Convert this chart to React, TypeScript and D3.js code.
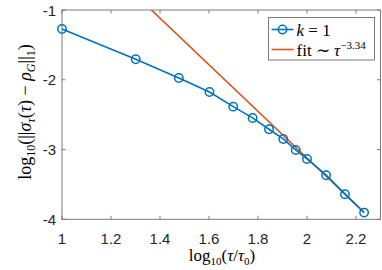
import React, { useEffect, useRef } from 'react';
import * as d3 from 'd3';

// log10(tau/tau0) and log10 error for k = 1
const logTau = [1.0, 1.301, 1.477, 1.602, 1.699, 1.778, 1.845, 1.903, 1.954, 2.0, 2.078, 2.155, 2.233];
const logErr = [-1.272, -1.706, -1.974, -2.175, -2.385, -2.547, -2.709, -2.848, -3.006, -3.135, -3.368, -3.640, -3.904];

// fit ~ tau^-3.34
const fitSlope = -3.34;
const fitIntercept = 3.559;
const fitRange = [1.3, 2.233];

const xTicks = [1, 1.2, 1.4, 1.6, 1.8, 2, 2.2];
const yTicks = [-1, -2, -3, -4];

const W = 382;
const H = 270;
const BLUE = '#0072BD';
const ORANGE = '#D95319';

const App: React.FC = () => {
    const svgRef = useRef<SVGSVGElement>(null);

    useEffect(() => {
        if (!svgRef.current) return;
        const svg = d3.select(svgRef.current);
        svg.selectAll('*').remove();

        const margin = { top: 10, right: 1.5, bottom: 50.7, left: 62 };
        const iw = W - margin.left - margin.right;
        const ih = H - margin.top - margin.bottom;

        const x = d3.scaleLinear().domain([1, 2.3]).range([0, iw]);
        const y = d3.scaleLinear().domain([-4, -1]).range([ih, 0]);

        const g = svg.append('g').attr('transform', `translate(${margin.left},${margin.top})`);

        svg.append('defs').append('clipPath').attr('id', 'plotclip')
            .append('rect').attr('width', iw).attr('height', ih);

        // box
        g.append('rect')
            .attr('width', iw).attr('height', ih)
            .attr('fill', 'none').attr('stroke', '#6e6e6e').attr('stroke-width', 0.9);

        const tickLen = 3.5;
        xTicks.forEach(t => {
            const px = x(t);
            g.append('line').attr('x1', px).attr('x2', px).attr('y1', ih).attr('y2', ih - tickLen)
                .attr('stroke', '#6e6e6e').attr('stroke-width', 0.9);
            g.append('line').attr('x1', px).attr('x2', px).attr('y1', 0).attr('y2', tickLen)
                .attr('stroke', '#6e6e6e').attr('stroke-width', 0.9);
            g.append('text').attr('x', px).attr('y', ih + 24.5)
                .attr('text-anchor', 'middle')
                .attr('font-family', 'Liberation Sans, Arial, sans-serif')
                .attr('font-size', 15).attr('fill', '#262626')
                .text(String(t));
        });
        yTicks.forEach(t => {
            const py = y(t);
            g.append('line').attr('x1', 0).attr('x2', tickLen).attr('y1', py).attr('y2', py)
                .attr('stroke', '#6e6e6e').attr('stroke-width', 0.9);
            g.append('line').attr('x1', iw).attr('x2', iw - tickLen).attr('y1', py).attr('y2', py)
                .attr('stroke', '#6e6e6e').attr('stroke-width', 0.9);
            g.append('text').attr('x', -6).attr('y', py + 5.5)
                .attr('text-anchor', 'end')
                .attr('font-family', 'Liberation Sans, Arial, sans-serif')
                .attr('font-size', 15).attr('fill', '#262626')
                .text(String(t));
        });

        // fit line
        const plot = g.append('g').attr('clip-path', 'url(#plotclip)');
        const fitPts = fitRange.map(v => [v, fitIntercept + fitSlope * v] as [number, number]);
        plot.append('path')
            .attr('d', d3.line<[number, number]>().x(d => x(d[0])).y(d => y(d[1]))(fitPts) || '')
            .attr('fill', 'none').attr('stroke', ORANGE).attr('stroke-width', 1.6);

        // data line
        const pts = logTau.map((v, i) => [v, logErr[i]] as [number, number]);
        g.append('path')
            .attr('d', d3.line<[number, number]>().x(d => x(d[0])).y(d => y(d[1]))(pts) || '')
            .attr('fill', 'none').attr('stroke', BLUE).attr('stroke-width', 1.6);
        g.selectAll('circle.pt').data(pts).enter().append('circle')
            .attr('cx', d => x(d[0])).attr('cy', d => y(d[1])).attr('r', 4.2)
            .attr('fill', 'none').attr('stroke', BLUE).attr('stroke-width', 1.5);

        // legend
        const lg = svg.append('g').attr('transform', 'translate(268.5,17.5)');
        lg.append('rect').attr('width', 106).attr('height', 42.5)
            .attr('fill', 'white').attr('stroke', '#6e6e6e').attr('stroke-width', 0.9);
        lg.append('line').attr('x1', 3).attr('x2', 25).attr('y1', 12).attr('y2', 12)
            .attr('stroke', BLUE).attr('stroke-width', 1.6);
        lg.append('circle').attr('cx', 14).attr('cy', 12).attr('r', 4.2)
            .attr('fill', 'none').attr('stroke', BLUE).attr('stroke-width', 1.5);
        lg.append('line').attr('x1', 3).attr('x2', 25).attr('y1', 32).attr('y2', 32)
            .attr('stroke', ORANGE).attr('stroke-width', 1.6);

        const serif = 'Liberation Serif, Times New Roman, serif';
        const t1 = lg.append('text').attr('x', 28).attr('y', 18)
            .attr('font-family', serif).attr('font-size', 17).attr('fill', '#000');
        t1.append('tspan').attr('font-style', 'italic').text('k');
        t1.append('tspan').text(' = 1');
        const t2 = lg.append('text').attr('x', 28).attr('y', 38)
            .attr('font-family', serif).attr('font-size', 17).attr('fill', '#000');
        t2.append('tspan').text('fit ∼ ');
        t2.append('tspan').attr('font-style', 'italic').text('τ');
        t2.append('tspan').attr('dy', -7).attr('font-size', 11).text('−3.34');

        // x label
        const xl = svg.append('text').attr('x', 222).attr('y', 261)
            .attr('text-anchor', 'middle')
            .attr('font-family', serif).attr('font-size', 17).attr('fill', '#000');
        xl.append('tspan').text('log');
        xl.append('tspan').attr('dy', 4).attr('font-size', 11).text('10');
        xl.append('tspan').attr('dy', -4).text('(');
        xl.append('tspan').attr('font-style', 'italic').text('τ');
        xl.append('tspan').text('/');
        xl.append('tspan').attr('font-style', 'italic').text('τ');
        xl.append('tspan').attr('dy', 4).attr('font-size', 11).text('0');
        xl.append('tspan').attr('dy', -4).text(')');

        // y label
        const yl = svg.append('text')
            .attr('transform', 'translate(31,112) rotate(-90)')
            .attr('text-anchor', 'middle')
            .attr('font-family', serif).attr('font-size', 18).attr('fill', '#000');
        yl.append('tspan').text('log');
        yl.append('tspan').attr('dy', 4).attr('font-size', 12).text('10');
        yl.append('tspan').attr('dy', -4).text('(||');
        yl.append('tspan').attr('font-style', 'italic').text('σ');
        yl.append('tspan').attr('dy', 4).attr('font-size', 12).attr('font-style', 'italic').text('τ');
        yl.append('tspan').attr('dy', -4).text('(');
        yl.append('tspan').attr('font-style', 'italic').text('τ');
        yl.append('tspan').text(') − ');
        yl.append('tspan').attr('font-style', 'italic').text('ρ');
        yl.append('tspan').attr('dy', 4).attr('font-size', 12).attr('font-style', 'italic').text('G');
        yl.append('tspan').attr('dy', -4).text('||');
        yl.append('tspan').attr('dy', 4).attr('font-size', 12).text('1');
        yl.append('tspan').attr('dy', -4).text(')');
    }, []);

    return (
        <div style={{ position: 'absolute', left: 0, top: 0, width: W, height: H, background: 'white' }}>
            <svg ref={svgRef} width={W} height={H} viewBox={`0 0 ${W} ${H}`} style={{ display: 'block' }} />
        </div>
    );
};

export default App;
